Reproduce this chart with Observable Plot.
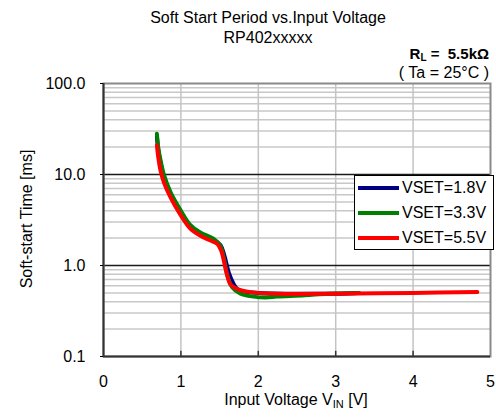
<!DOCTYPE html>
<html>
<head>
<meta charset="utf-8">
<script src="https://cdn.jsdelivr.net/npm/d3@7"></script>
<script src="https://cdn.jsdelivr.net/npm/@observablehq/plot@0.6"></script>
<style>
  body { margin: 0; background: white; }
  #wrap { position: relative; width: 496px; height: 419px; font-family: "Liberation Sans", Arial, sans-serif; }
  #legend { position: absolute; left: 354px; top: 175px; width: 140px; height: 75px; border: 1px solid #000; background: #fff; box-sizing: border-box; }
  .row { position: absolute; left: 0; height: 20px; display: flex; align-items: center; font-size: 16px; color: #000; }
  .sw { display: inline-block; width: 41px; height: 4px; margin-left: 3px; margin-right: 3px; }
</style>
</head>
<body>
<div id="wrap"></div>
<script>
// Data
const vBlue  = [0.69, 0.71, 0.74, 0.78, 0.87, 1.0, 1.12, 1.25, 1.42, 1.51, 1.56, 1.62, 1.68, 1.73, 1.8, 2.0, 2.5, 3.0, 3.3];
const tBlue  = [26, 18, 13, 9.5, 6.0, 3.8, 2.65, 2.2, 1.92, 1.68, 1.3, 0.83, 0.63, 0.55, 0.52, 0.5, 0.49, 0.49, 0.5];

const vGreen = [0.69, 0.71, 0.74, 0.78, 0.87, 1.0, 1.12, 1.25, 1.42, 1.51, 1.555, 1.6, 1.66, 1.77, 1.94, 2.1, 2.24, 2.6, 2.9, 3.3];
const tGreen = [28, 19, 14, 10, 6.3, 4.0, 2.8, 2.3, 1.97, 1.64, 1.2, 0.78, 0.58, 0.49, 0.455, 0.445, 0.455, 0.47, 0.49, 0.5];

const vRed   = [0.69, 0.71, 0.736, 0.78, 0.866, 0.995, 1.124, 1.253, 1.383, 1.47, 1.52, 1.555, 1.59, 1.64, 1.73, 1.9, 2.24, 3.0, 4.0, 4.83];
const tRed   = [21, 15, 11.1, 8.2, 5.6, 3.6, 2.53, 2.12, 1.88, 1.73, 1.46, 1.13, 0.83, 0.62, 0.55, 0.51, 0.49, 0.49, 0.50, 0.51];

const seriesNames = ["VSET=1.8V", "VSET=3.3V", "VSET=5.5V"];
const seriesColors = ["#000080", "#008000", "#ff0000"];

const xTicks = [0, 1, 2, 3, 4, 5];
const yTicks = [0.1, 1, 10, 100];

const toRows = (vs, ts, s) => vs.map((v, i) => ({v, t: ts[i], s}));
const rows = [
  ...toRows(vBlue, tBlue, seriesNames[0]),
  ...toRows(vGreen, tGreen, seriesNames[1]),
  ...toRows(vRed, tRed, seriesNames[2])
];
const minor = [];
for (const d of [0.1, 1, 10]) for (let k = 2; k <= 9; k++) minor.push(d * k);

const chart = Plot.plot({
  width: 496, height: 419,
  marginLeft: 103, marginRight: 6, marginTop: 83, marginBottom: 63,
  style: { fontFamily: "'Liberation Sans', Arial, sans-serif", fontSize: "16px", background: "white", color: "#000" },
  x: { domain: [0, 5] },
  y: { type: "log", domain: [0.1, 100] },
  color: { domain: seriesNames, range: seriesColors },
  marks: [
    Plot.gridY(minor, { stroke: "#c8c8c8", strokeOpacity: 1, strokeWidth: 1.5 }),
    Plot.gridX([1, 2, 3, 4], { stroke: "#c4c4c4", strokeOpacity: 1, strokeWidth: 1.5 }),
    Plot.gridY([1, 10], { stroke: "#1a1a1a", strokeOpacity: 1, strokeWidth: 1.5 }),
    Plot.frame({ stroke: "#8a8a8a", strokeWidth: 2 }),
    Plot.ruleX([0], { stroke: "#333", strokeWidth: 2 }),
    Plot.ruleY([0.1], { stroke: "#333", strokeWidth: 2 }),
    Plot.ruleX([1, 2, 3, 4], { y1: 0.1, y2: 0.114, stroke: "#333", strokeWidth: 1.5 }),
    Plot.axisY({ ticks: yTicks, tickFormat: d3.format(".1f"), tickSize: 3, tickPadding: 15, label: null, fontSize: 16 }),
    Plot.axisX({ ticks: xTicks, tickFormat: d3.format("d"), tickSize: 0, tickPadding: 19, label: null, fontSize: 16 }),
    Plot.line(rows, { x: "v", y: "t", z: "s", stroke: "s", strokeWidth: 4, curve: "catmull-rom", strokeLinejoin: "round" })
  ]
});

const wrap = document.getElementById("wrap");
wrap.appendChild(chart);

const svg = d3.select(chart);
const ff = "'Liberation Sans', Arial, sans-serif";
svg.append("text").attr("x", 268).attr("y", 22.5).attr("text-anchor", "middle")
  .attr("font-family", ff).attr("font-size", 16).attr("fill", "#000").text("Soft Start Period vs.Input Voltage");
svg.append("text").attr("x", 268).attr("y", 42.5).attr("text-anchor", "middle")
  .attr("font-family", ff).attr("font-size", 16).attr("fill", "#000").text("RP402xxxxx");

const rl = svg.append("text").attr("x", 489).attr("y", 59).attr("text-anchor", "end")
  .attr("font-family", ff).attr("font-size", 15).attr("font-weight", "bold").attr("fill", "#000");
rl.append("tspan").text("R");
rl.append("tspan").attr("font-size", 10).attr("dy", 2).text("L");
rl.append("tspan").attr("dy", -2).attr("xml:space", "preserve").text(" =  5.5kΩ");

svg.append("text").attr("x", 489).attr("y", 77.5).attr("text-anchor", "end")
  .attr("font-family", ff).attr("font-size", 16).attr("fill", "#000").text("( Ta = 25°C )");

svg.append("text").attr("transform", "translate(32,219) rotate(-90)").attr("text-anchor", "middle")
  .attr("font-family", ff).attr("font-size", 16).attr("fill", "#000").text("Soft-start Time [ms]");

const xl = svg.append("text").attr("x", 296).attr("y", 405).attr("text-anchor", "middle")
  .attr("font-family", ff).attr("font-size", 16).attr("fill", "#000");
xl.append("tspan").text("Input Voltage V");
xl.append("tspan").attr("font-size", 11).attr("dy", 3).text("IN");
xl.append("tspan").attr("dy", -3).text(" [V]");

// Legend
const lg = document.createElement("div");
lg.id = "legend";
seriesNames.forEach((name, i) => {
  const r = document.createElement("div");
  r.className = "row";
  r.style.top = (2 + i * 25) + "px";
  const sw = document.createElement("span");
  sw.className = "sw";
  sw.style.background = seriesColors[i];
  const tx = document.createElement("span");
  tx.textContent = name;
  r.appendChild(sw); r.appendChild(tx);
  lg.appendChild(r);
});
wrap.appendChild(lg);
</script>
</body>
</html>
